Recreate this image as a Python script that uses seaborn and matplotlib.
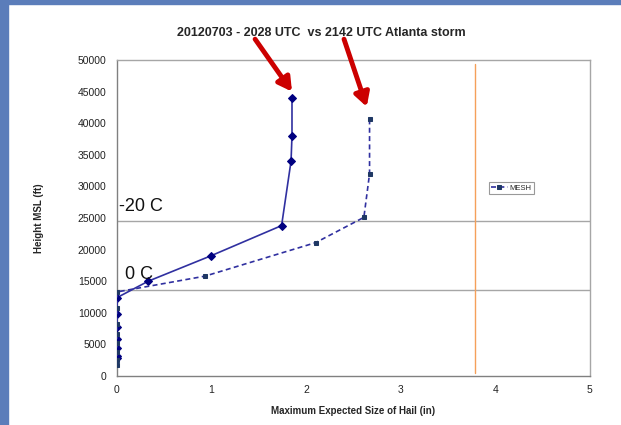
import numpy as np
import pandas as pd
import matplotlib
matplotlib.use("Agg")
import matplotlib.pyplot as plt
import seaborn as sns
from matplotlib.patches import Rectangle

# 2028 UTC profile (solid, diamonds)
hail_2028 = [1.85, 1.85, 1.84, 1.74, 0.99, 0.33, 0.0, 0.0, 0.0, 0.0, 0.0, 0.0, 0.0]
height_2028 = [44000, 38000, 34000, 23800, 19000, 15000, 12400, 9800, 7700, 5900, 4500, 3200, 2800]

# 2142 UTC profile (MESH, dashed, squares)
hail_2142 = [2.67, 2.67, 2.61, 2.10, 0.93, 0.0, 0.0, 0.0, 0.0, 0.0, 0.0, 0.0, 0.0]
height_2142 = [40600, 32000, 25100, 21100, 15800, 13300, 10800, 8200, 6600, 5200, 3850, 2500, 1800]

iso_0c = 13600
iso_m20c = 24500
orange_x = 3.78

df1 = pd.DataFrame({"hail": hail_2028, "height": height_2028})
df2 = pd.DataFrame({"hail": hail_2142, "height": height_2142})

sns.set_style("white")
plt.rcParams["font.family"] = ["Liberation Sans", "DejaVu Sans"]

fig = plt.figure(figsize=(6.21, 4.25), dpi=100)
ax = fig.add_axes([0.1884, 0.1153, 0.7616, 0.7435])

# frame of the slide
fig.patches.append(Rectangle((0, 0), 8 / 621, 1, transform=fig.transFigure,
                             color="#5b7dba", zorder=0))
fig.patches.append(Rectangle((0, 1 - 4 / 425), 1, 4 / 425, transform=fig.transFigure,
                             color="#5b7dba", zorder=0))

ax.axhline(iso_0c, color="#a6a6a6", lw=1, zorder=1)
ax.axhline(iso_m20c, color="#a6a6a6", lw=1, zorder=1)
ax.plot([orange_x, orange_x], [400, 49400], color="#f5a05a", lw=1, zorder=1)

sns.lineplot(data=df1, x="hail", y="height", sort=False, estimator=None,
             errorbar=None, ax=ax, color="#3030a0",
             lw=1.2, marker="D", markersize=4, markerfacecolor="#000080",
             markeredgecolor="#000080", zorder=3)
sns.lineplot(data=df2, x="hail", y="height", sort=False, estimator=None,
             errorbar=None, ax=ax, color="#3030a0",
             lw=1.2, linestyle=(0, (3, 2)), marker="s", markersize=3.5,
             markerfacecolor="#1f3864", markeredgecolor="#1f3864", zorder=3,
             label="MESH")

ax.set_xlim(0, 5)
ax.set_ylim(0, 50000)
ax.set_xticks(range(0, 6))
ax.set_yticks(range(0, 50001, 5000))
ax.tick_params(axis="both", labelsize=7.5, colors="#222222", length=4,
               width=0.8, color="#808080")
ax.tick_params(axis="x", direction="inout", length=6)
ax.tick_params(axis="y", direction="out")
for s in ["left", "bottom"]:
    ax.spines[s].set_color("#808080")
    ax.spines[s].set_linewidth(1)
for s in ["top", "right"]:
    ax.spines[s].set_color("#a6a6a6")
    ax.spines[s].set_linewidth(1)

ax.set_xlabel("Maximum Expected Size of Hail (in)", fontsize=7, fontweight="bold",
              labelpad=8)
ax.set_ylabel("Height MSL (ft)", fontsize=7, fontweight="bold", labelpad=24)

leg = ax.legend(loc="upper left", bbox_to_anchor=(0.778, 0.625), fontsize=5.5,
                frameon=True, fancybox=False, handlelength=2.2, borderpad=0.3,
                handletextpad=0.2)
leg.get_frame().set_edgecolor("#808080")
leg.get_frame().set_linewidth(0.8)

ax.text(0.02, 25400, "-20 C", fontsize=13, color="#111111", va="bottom")
ax.text(0.08, 14700, "0 C", fontsize=13, color="#111111", va="bottom")

fig.text(0.518, 0.922, "20120703 - 2028 UTC  vs 2142 UTC Atlanta storm",
         fontsize=9, fontweight="bold", ha="center", va="center")

arrow = dict(arrowstyle="-|>,head_length=0.8,head_width=0.45", color="#cc0000",
             lw=3.5, shrinkA=0, shrinkB=0)
ax.annotate("", xy=(1.85, 45000), xytext=(1.46, 53300), arrowprops=arrow,
            annotation_clip=False)
ax.annotate("", xy=(2.64, 42600), xytext=(2.40, 53300), arrowprops=arrow,
            annotation_clip=False)

fig.savefig("out.png", dpi=100)
